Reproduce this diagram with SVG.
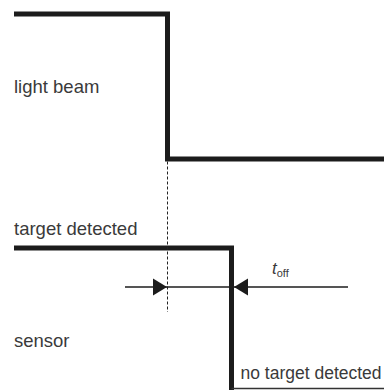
<svg xmlns="http://www.w3.org/2000/svg" width="384" height="390" viewBox="0 0 384 390">
<style>
.sig{fill:none;stroke:#1c1c1c;stroke-width:5;stroke-linejoin:miter}
.lbl{font-family:"Liberation Sans",Arial,sans-serif;font-size:18.5px;fill:#3a3a3a}
.dash{stroke:#222;stroke-width:1;stroke-dasharray:3 2;fill:none}
.dim{stroke:#1c1c1c;stroke-width:1.6;fill:none}
</style>
<rect width="384" height="390" fill="#fff"/>
<g id="light-beam">
<polyline class="sig" points="14,14 167.5,14 167.5,159 384,159"/>
<text class="lbl" x="14" y="92.5">light beam</text>
</g>
<g id="sensor">
<polyline class="sig" points="14,248 231.5,248 231.5,392"/>
<line x1="231.5" y1="388.5" x2="384" y2="388.5" stroke="#333" stroke-width="1.3"/>
<text class="lbl" x="14" y="235">target detected</text>
<text class="lbl" x="14" y="347">sensor</text>
<text class="lbl" x="240.5" y="379" style="font-size:17.5px">no target detected</text>
</g>
<g id="connectors">
<line class="dash" x1="167.5" y1="161.5" x2="167.5" y2="312"/>
<line class="dim" x1="125" y1="287" x2="348" y2="287"/>
<polygon points="153,278.5 167,287 153,295.5" fill="#1c1c1c"/>
<polygon points="248,278.5 234,287 248,295.5" fill="#1c1c1c"/>
<text x="272" y="274" font-family="Liberation Sans,Arial,sans-serif" font-size="17" font-style="italic" fill="#3a3a3a">t<tspan font-size="11" font-style="normal" dy="3">off</tspan></text>
</g>
</svg>
